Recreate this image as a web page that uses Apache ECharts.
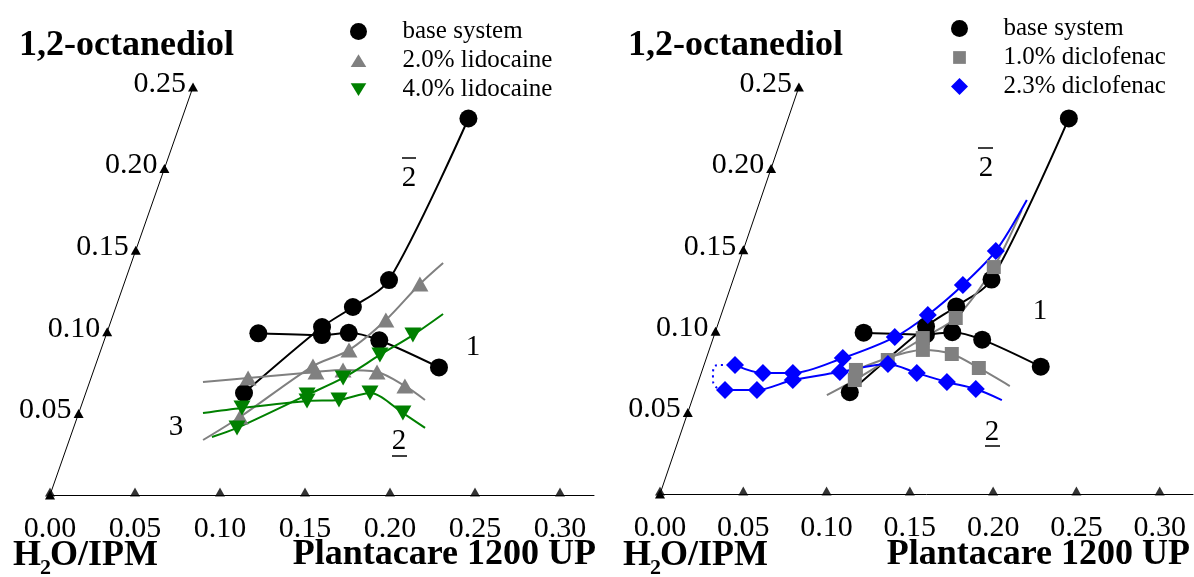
<!DOCTYPE html>
<html>
<head>
<meta charset="utf-8">
<script src="https://cdn.jsdelivr.net/npm/echarts@6/dist/echarts.min.js"></script>
<style>
  html, body { margin: 0; padding: 0; background: #fff; }
  #main { width: 1194px; height: 577px; }
</style>
</head>
<body>
<div id="main"></div>
<script>
// tick values of the two axes
const plantTicks = [0, 0.05, 0.10, 0.15, 0.20, 0.25, 0.30];
const octTicks = [0, 0.05, 0.10, 0.15, 0.20, 0.25];

// points are [Plantacare 1200 UP, 1,2-octanediol] mass fractions
// base system (same in both panels)
const baseRise = [[0.0931, 0.0625], [0.1254, 0.1029], [0.1394, 0.1152], [0.1551, 0.1317], [0.1685, 0.2307]];
const baseFlat = [[0.0892, 0.0991], [0.1270, 0.0980], [0.1423, 0.0994], [0.1618, 0.0948], [0.2025, 0.0782]];

// 2.0% lidocaine
const lido2Rise = [[0.0957, 0.0478], [0.1281, 0.0790], [0.1460, 0.0888], [0.1615, 0.1072], [0.1741, 0.1293]];
const lido2RiseEnds = [[0.0787, 0.0337], [0.1834, 0.1422]];
const lido2Flat = [[0.0924, 0.0717], [0.1311, 0.0754], [0.1466, 0.0766], [0.1670, 0.0754], [0.1863, 0.0668]];
const lido2FlatEnds = [[0.0667, 0.0692], [0.2010, 0.0582]];

// 4.0% lidocaine
const lido4Rise = [[0.0962, 0.0411], [0.1306, 0.0613], [0.1483, 0.0717], [0.1652, 0.0858], [0.1805, 0.0980]];
const lido4RiseEnds = [[0.0833, 0.0355], [0.1939, 0.1109]];
const lido4Flat = [[0.0950, 0.0533], [0.1318, 0.0576], [0.1504, 0.0582], [0.1672, 0.0625], [0.1907, 0.0502]];
const lido4FlatEnds = [[0.0731, 0.0502], [0.2068, 0.0411]];

// 1.0% diclofenac
const diclo1Rise = [[0.0936, 0.0700], [0.1093, 0.0823], [0.1258, 0.0958], [0.1415, 0.1081], [0.1539, 0.1394]];
const diclo1RiseEnds = [[0.0799, 0.0608], [0.1590, 0.1744]];
const diclo1Flat = [[0.0922, 0.0762], [0.1283, 0.0885], [0.1465, 0.0860], [0.1656, 0.0774]];
const diclo1FlatEnds = [null, [0.1879, 0.0663]];

// 2.3% diclofenac
const diclo23Upper = [[0.0186, 0.0792], [0.0370, 0.0743], [0.0550, 0.0743], [0.0819, 0.0835], [0.1088, 0.0964], [0.1241, 0.1100], [0.1390, 0.1284], [0.1518, 0.1493]];
const diclo23UpperEnds = [null, [0.1600, 0.1806]];
const diclo23Lower = [[0.0177, 0.0639], [0.0369, 0.0639], [0.0564, 0.0700], [0.0830, 0.0749], [0.1102, 0.0799], [0.1294, 0.0743], [0.1493, 0.0688], [0.1681, 0.0645]];
const diclo23LowerEnds = [null, [0.1860, 0.0577]];
const diclo23Link = [[0.0186, 0.0792], [0.0084, 0.0792], [0.0078, 0.0719], [0.0117, 0.0657], [0.0177, 0.0639]];

const SERIF = '"Liberation Serif", "Times New Roman", serif';
const SKEW = [0.3365, 0.3336]; // slant of the octanediol axis in each panel
const TRI_DOWN = 'path://M0,0L10,0L5,8.66Z';
const ICON = {
  circle: 'circle',
  tri: 'path://M0,0M12,12M6,1.5L11.5,10.5L0.5,10.5Z',
  triDown: 'path://M0,0M12,12M0.5,1.5L11.5,1.5L6,10.5Z',
  square: 'path://M0,0M12,12M1.5,1.5H10.5V10.5H1.5Z',
  diamond: 'path://M6,0L12,6L6,12L0,6Z'
};

// triangle coords -> plot coords (the octanediol axis is slanted)
function toXY(pt, gi) {
  return [pt[0] + SKEW[gi] * pt[1], pt[1]];
}

function curve(name, color, symbol, size, pts, ends, gi, extra) {
  const data = [];
  if (ends && ends[0]) data.push({ value: toXY(ends[0], gi), symbol: 'none' });
  pts.forEach(p => data.push({ value: toXY(p, gi) }));
  if (ends && ends[1]) data.push({ value: toXY(ends[1], gi), symbol: 'none' });
  return Object.assign({
    type: 'line', name: name, xAxisIndex: gi, yAxisIndex: gi, data: data,
    smooth: 0.3, symbol: symbol, symbolSize: size, symbolKeepAspect: false,
    showAllSymbol: true, silent: true, z: 3,
    lineStyle: { color: color, width: 2 }, itemStyle: { color: color }
  }, extra || {});
}

function frame(gi) {
  return [
    {
      type: 'line', xAxisIndex: gi, yAxisIndex: gi, silent: true, z: 2,
      data: octTicks.map(o => toXY([0, o], gi)),
      symbol: 'triangle', symbolSize: [10, 9], showAllSymbol: true,
      lineStyle: { color: '#000', width: 1 }, itemStyle: { color: '#000' },
      label: {
        show: true, position: 'left', distance: 2, offset: [0, -3],
        fontFamily: SERIF, fontSize: 30, color: '#000',
        formatter: p => p.value[1] ? p.value[1].toFixed(2) : ''
      }
    },
    {
      type: 'scatter', xAxisIndex: gi, yAxisIndex: gi, silent: true, z: 2,
      data: plantTicks.map(p => [p, 0]),
      symbol: 'triangle', symbolSize: [10, 9], symbolOffset: [0, -3],
      itemStyle: { color: '#000' }
    }
  ];
}

function xAx(gi) {
  return {
    gridIndex: gi, type: 'value', min: 0, max: 0.32, interval: 0.05,
    axisLine: { show: true, onZero: true, lineStyle: { color: '#000', width: 1 } },
    axisTick: { show: false }, splitLine: { show: false },
    axisLabel: {
      margin: 19, fontFamily: SERIF, fontSize: 30, color: '#000',
      formatter: v => {
        const k = Math.round(v / 0.05);
        return Math.abs(v - k * 0.05) < 1e-6 ? v.toFixed(2) : '';
      }
    }
  };
}

function yAx(gi) {
  return { gridIndex: gi, type: 'value', min: 0, max: 0.30, show: false };
}

function txt(x, y, text, font, align) {
  return {
    type: 'text', x: x, y: y, silent: true,
    style: {
      text: text, font: font + ' ' + SERIF, fill: '#000',
      textAlign: align || 'left', textVerticalAlign: 'middle',
      align: align || 'left', verticalAlign: 'middle'
    }
  };
}

function bar(x1, x2, y) {
  return { type: 'line', silent: true, shape: { x1: x1, y1: y, x2: x2, y2: y }, style: { stroke: '#000', lineWidth: 1.5 } };
}

const legendBase = {
  orient: 'vertical', itemWidth: 78, itemHeight: 17, itemGap: 4, selectedMode: false,
  textStyle: { fontFamily: SERIF, fontSize: 25, color: '#000' }
};

const chart = echarts.init(document.getElementById('main'));

const option = {
  animation: false,
  backgroundColor: '#fff',
  grid: [
    { left: 50, width: 544, top: 5.4, bottom: 82, outerBoundsMode: 'none' },
    { left: 660, width: 533, top: 5.6, bottom: 83, outerBoundsMode: 'none' }
  ],
  xAxis: [xAx(0), xAx(1)],
  yAxis: [yAx(0), yAx(1)],
  legend: [
    Object.assign({}, legendBase, {
      left: 345, top: 14,
      data: [
        { name: 'base system', icon: ICON.circle },
        { name: '2.0% lidocaine', icon: ICON.tri },
        { name: '4.0% lidocaine', icon: ICON.triDown }
      ]
    }),
    Object.assign({}, legendBase, {
      left: 946, top: 11,
      data: [
        { name: 'base system', icon: ICON.circle },
        { name: '1.0% diclofenac', icon: ICON.square },
        { name: '2.3% diclofenac', icon: ICON.diamond }
      ]
    })
  ],
  graphic: [
    txt(19, 46, '1,2-octanediol', 'bold 36px'),
    txt(628, 46, '1,2-octanediol', 'bold 36px'),
    txt(13, 556, 'H', 'bold 36px'),
    txt(40, 568, '2', 'bold 22px'),
    txt(50, 556, 'O/IPM', 'bold 36px'),
    txt(623, 556, 'H', 'bold 36px'),
    txt(650, 568, '2', 'bold 22px'),
    txt(660, 556, 'O/IPM', 'bold 36px'),
    txt(596, 555, 'Plantacare 1200 UP', 'bold 36px', 'right'),
    txt(1190, 555, 'Plantacare 1200 UP', 'bold 36px', 'right'),
    // curve labels, left panel
    txt(409, 178, '2', '29px', 'center'), bar(402, 416, 158),
    txt(399, 441, '2', '29px', 'center'), bar(392, 407, 456),
    txt(473, 347, '1', '29px', 'center'),
    txt(176, 427, '3', '29px', 'center'),
    // curve labels, right panel
    txt(986, 168, '2', '29px', 'center'), bar(978, 993, 148),
    txt(992, 432, '2', '29px', 'center'), bar(985, 1000, 446),
    txt(1040, 311, '1', '29px', 'center')
  ],
  series: [].concat(
    frame(0), frame(1),
    // left panel
    curve('base system', '#000', 'circle', 18, baseRise, null, 0),
    curve('base system', '#000', 'circle', 18, baseFlat, null, 0),
    curve('2.0% lidocaine', '#808080', 'triangle', [17, 15], lido2Rise, lido2RiseEnds, 0),
    curve('2.0% lidocaine', '#808080', 'triangle', [17, 15], lido2Flat, lido2FlatEnds, 0),
    curve('4.0% lidocaine', '#008000', TRI_DOWN, [17, 15], lido4Rise, lido4RiseEnds, 0),
    curve('4.0% lidocaine', '#008000', TRI_DOWN, [17, 15], lido4Flat, lido4FlatEnds, 0),
    // right panel
    curve('base system', '#000', 'circle', 18, baseRise, null, 1),
    curve('base system', '#000', 'circle', 18, baseFlat, null, 1),
    curve('1.0% diclofenac', '#808080', 'rect', 14, diclo1Rise, diclo1RiseEnds, 1),
    curve('1.0% diclofenac', '#808080', 'rect', 14, diclo1Flat, diclo1FlatEnds, 1),
    curve('2.3% diclofenac', '#0000ff', 'diamond', 18, diclo23Upper, diclo23UpperEnds, 1),
    curve('2.3% diclofenac', '#0000ff', 'diamond', 18, diclo23Lower, diclo23LowerEnds, 1),
    curve('2.3% diclofenac link', '#0000ff', 'none', 0, diclo23Link, null, 1,
      { smooth: 0.6, z: 2, lineStyle: { color: '#0000ff', width: 2, type: [2, 4] } })
  )
};

chart.setOption(option);
</script>
</body>
</html>
